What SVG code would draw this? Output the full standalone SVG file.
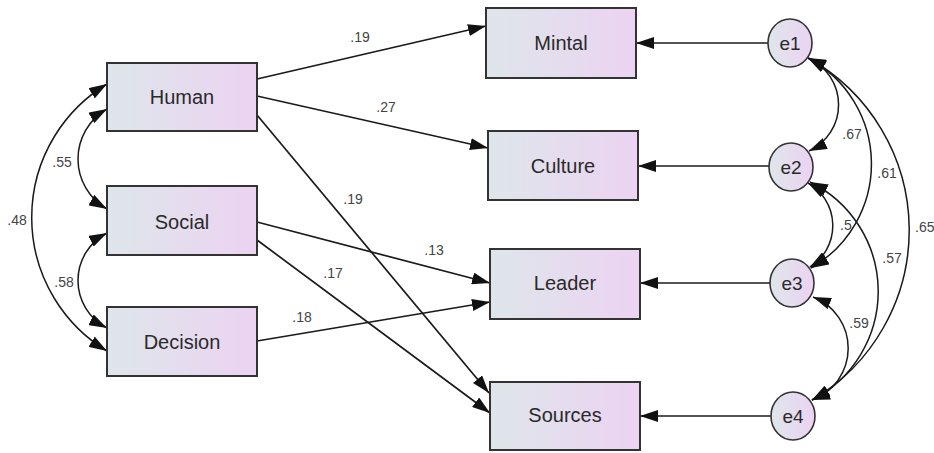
<svg xmlns="http://www.w3.org/2000/svg" width="934" height="453" viewBox="0 0 934 453">
<style>
.box{stroke:#333;stroke-width:2;fill:url(#g)}
.ell{stroke:#333;stroke-width:1.6;fill:url(#g)}
.nt{font-family:"Liberation Sans",Arial,sans-serif;font-size:20px;fill:#2a2a2a;text-anchor:middle}
.et{font-family:"Liberation Sans",Arial,sans-serif;font-size:19px;fill:#2a2a2a;text-anchor:middle}
.lb{font-family:"Liberation Sans",Arial,sans-serif;font-size:14px;fill:#444;text-anchor:middle}
.c{fill:none;stroke:#1a1a1a;stroke-width:1.7;marker-end:url(#ah)}
.d{fill:none;stroke:#1a1a1a;stroke-width:1.5;marker-start:url(#ah);marker-end:url(#ah)}
</style>
<defs>
<linearGradient id="g" x1="0" y1="0" x2="1" y2="0">
<stop offset="0" stop-color="#dee6ea"/>
<stop offset="1" stop-color="#ecd3f2"/>
</linearGradient>
<marker id="ah" viewBox="0 0 18 12" refX="18" refY="6" markerWidth="18" markerHeight="12" markerUnits="userSpaceOnUse" orient="auto-start-reverse">
<path d="M0,0 L18,6 L0,12 z" fill="#111"/>
</marker>
</defs>
<rect width="934" height="453" fill="#fff"/>
<g id="connectors">
<path class="c" d="M257,79 L486,26"/>
<path class="c" d="M257,96 L488,148"/>
<path class="c" d="M257,115 L489,393"/>
<path class="c" d="M257,222 L490,283"/>
<path class="c" d="M257,240 L490,413"/>
<path class="c" d="M257,341 L490,302"/>
<path class="c" d="M768,43 L636,43"/>
<path class="c" d="M769,166 L638,166"/>
<path class="c" d="M770,283 L640,283"/>
<path class="c" d="M771,416 L640,416"/>
<path class="d" d="M107,109 A57.6 57.6 0 0 0 107,209"/>
<path class="d" d="M107,84 A156 156 0 0 0 107,351"/>
<path class="d" d="M107,233 A53.4 53.4 0 0 0 107,328"/>
<path class="d" d="M808,58 A51 51 0 0 1 809,151"/>
<path class="d" d="M808,58 A120 120 0 0 1 811,268"/>
<path class="d" d="M808,58 A197 197 0 0 1 812,400"/>
<path class="d" d="M808,183 A49 49 0 0 1 810,267"/>
<path class="d" d="M810,182 A122 122 0 0 1 812,400"/>
<path class="d" d="M813,297 A55 55 0 0 1 812,400"/>
<text class="lb" x="360" y="42">.19</text>
<text class="lb" x="386" y="112">.27</text>
<text class="lb" x="353" y="204">.19</text>
<text class="lb" x="434" y="255">.13</text>
<text class="lb" x="333" y="278">.17</text>
<text class="lb" x="302" y="322">.18</text>
<text class="lb" x="62" y="167">.55</text>
<text class="lb" x="17" y="225">.48</text>
<text class="lb" x="64" y="287">.58</text>
<text class="lb" x="852" y="139">.67</text>
<text class="lb" x="887" y="178">.61</text>
<text class="lb" x="915" y="232" style="text-anchor:start">.65</text>
<text class="lb" x="840" y="230" style="text-anchor:start">.5</text>
<text class="lb" x="892" y="263">.57</text>
<text class="lb" x="859" y="328">.59</text>
</g>
<g id="Human"><rect class="box" x="107" y="63" width="150" height="68"/><text class="nt" x="182" y="104">Human</text></g>
<g id="Social"><rect class="box" x="107" y="186" width="150" height="69"/><text class="nt" x="182" y="229">Social</text></g>
<g id="Decision"><rect class="box" x="107" y="307" width="150" height="69"/><text class="nt" x="182" y="349">Decision</text></g>
<g id="Mintal"><rect class="box" x="486" y="8" width="150" height="70"/><text class="nt" x="561" y="50">Mintal</text></g>
<g id="Culture"><rect class="box" x="488" y="131" width="150" height="69"/><text class="nt" x="563" y="173">Culture</text></g>
<g id="Leader"><rect class="box" x="490" y="249" width="150" height="70"/><text class="nt" x="565" y="290">Leader</text></g>
<g id="Sources"><rect class="box" x="490" y="382" width="150" height="68"/><text class="nt" x="565" y="422">Sources</text></g>
<g id="e1"><ellipse class="ell" cx="790" cy="43" rx="22" ry="24"/><text class="et" x="790" y="50">e1</text></g>
<g id="e2"><ellipse class="ell" cx="791" cy="167" rx="22" ry="24"/><text class="et" x="791" y="174">e2</text></g>
<g id="e3"><ellipse class="ell" cx="792" cy="283" rx="22" ry="24"/><text class="et" x="792" y="290">e3</text></g>
<g id="e4"><ellipse class="ell" cx="793" cy="416" rx="22" ry="24"/><text class="et" x="793" y="423">e4</text></g>
</svg>
